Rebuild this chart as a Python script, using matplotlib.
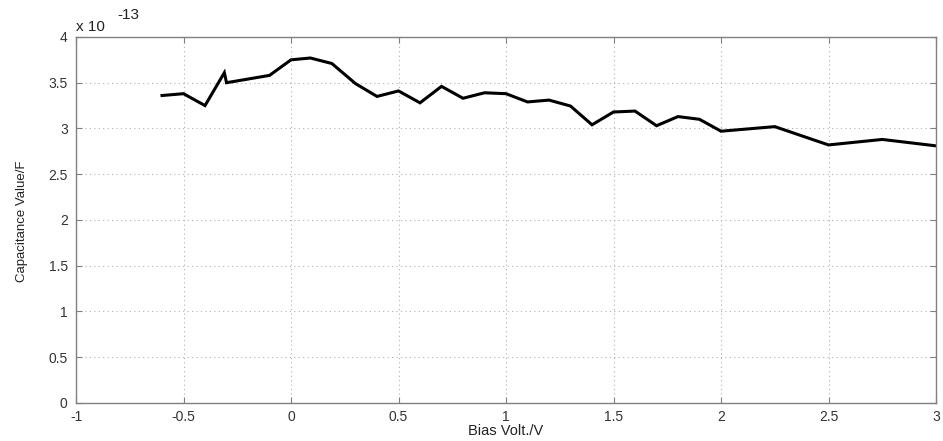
import matplotlib
matplotlib.use("Agg")
import matplotlib.pyplot as plt
from matplotlib.ticker import FuncFormatter, MultipleLocator

# Measured C-V sweep (capacitance in units of 1e-13 F)
bias_v = [-0.6, -0.5, -0.4, -0.31, -0.3, -0.1, 0.0, 0.09, 0.19, 0.3, 0.4, 0.5,
          0.6, 0.7, 0.8, 0.9, 1.0, 1.1, 1.2, 1.3, 1.4, 1.5, 1.6, 1.7, 1.8,
          1.9, 2.0, 2.25, 2.5, 2.75, 3.0]
cap_e13 = [3.36, 3.38, 3.25, 3.61, 3.50, 3.58, 3.75, 3.77, 3.71, 3.49, 3.35,
           3.41, 3.28, 3.46, 3.33, 3.39, 3.38, 3.29, 3.31, 3.245, 3.04, 3.18,
           3.19, 3.03, 3.13, 3.10, 2.97, 3.02, 2.82, 2.88, 2.81]
scale = 1e-13
cap_f = [c * scale for c in cap_e13]

plt.rcParams['font.family'] = ['Liberation Sans', 'DejaVu Sans']

fig = plt.figure(figsize=(9.43, 4.41), dpi=100)
ax = fig.add_axes([0.0806, 0.0862, 0.912, 0.830])

ax.plot(bias_v, cap_f, color='black', lw=2.2, solid_joinstyle='miter')

ax.set_xlim(-1, 3)
ax.set_ylim(0, 4 * scale)
ax.xaxis.set_major_locator(MultipleLocator(0.5))
ax.yaxis.set_major_locator(MultipleLocator(0.5 * scale))
ax.xaxis.set_major_formatter(FuncFormatter(lambda v, p: f"{v:g}"))
ax.yaxis.set_major_formatter(FuncFormatter(lambda v, p: f"{v / scale:g}"))
ax.xaxis.get_offset_text().set_visible(False)
ax.yaxis.get_offset_text().set_visible(False)

ax.grid(True, color='#b0b0b0', linestyle=(0, (1, 3)), linewidth=0.8)
for s in ax.spines.values():
    s.set_color('#808080')
    s.set_linewidth(1.0)
ax.tick_params(direction='in', length=4, color='#808080', labelsize=10,
               labelcolor='#333333', top=True, right=True)
ax.tick_params(axis='y', pad=6)
ax.tick_params(axis='x', pad=5)

ax.set_xlabel('Bias Volt./V', fontsize=10.5, color='#222222', labelpad=0)
fig.text(22 / 943, 1 - 221 / 441, 'Capacitance Value/F', fontsize=9.5,
         color='#222222', rotation=90, ha='center', va='center')

# exponent marker above the y axis
fig.text(76 / 943, 1 - 27 / 441, 'x 10', fontsize=11, color='#222222',
         ha='left', va='center')
fig.text(117 / 943, 1 - 15 / 441, '-13', fontsize=11, color='#222222',
         ha='left', va='center')

fig.savefig('out.png', dpi=100)
